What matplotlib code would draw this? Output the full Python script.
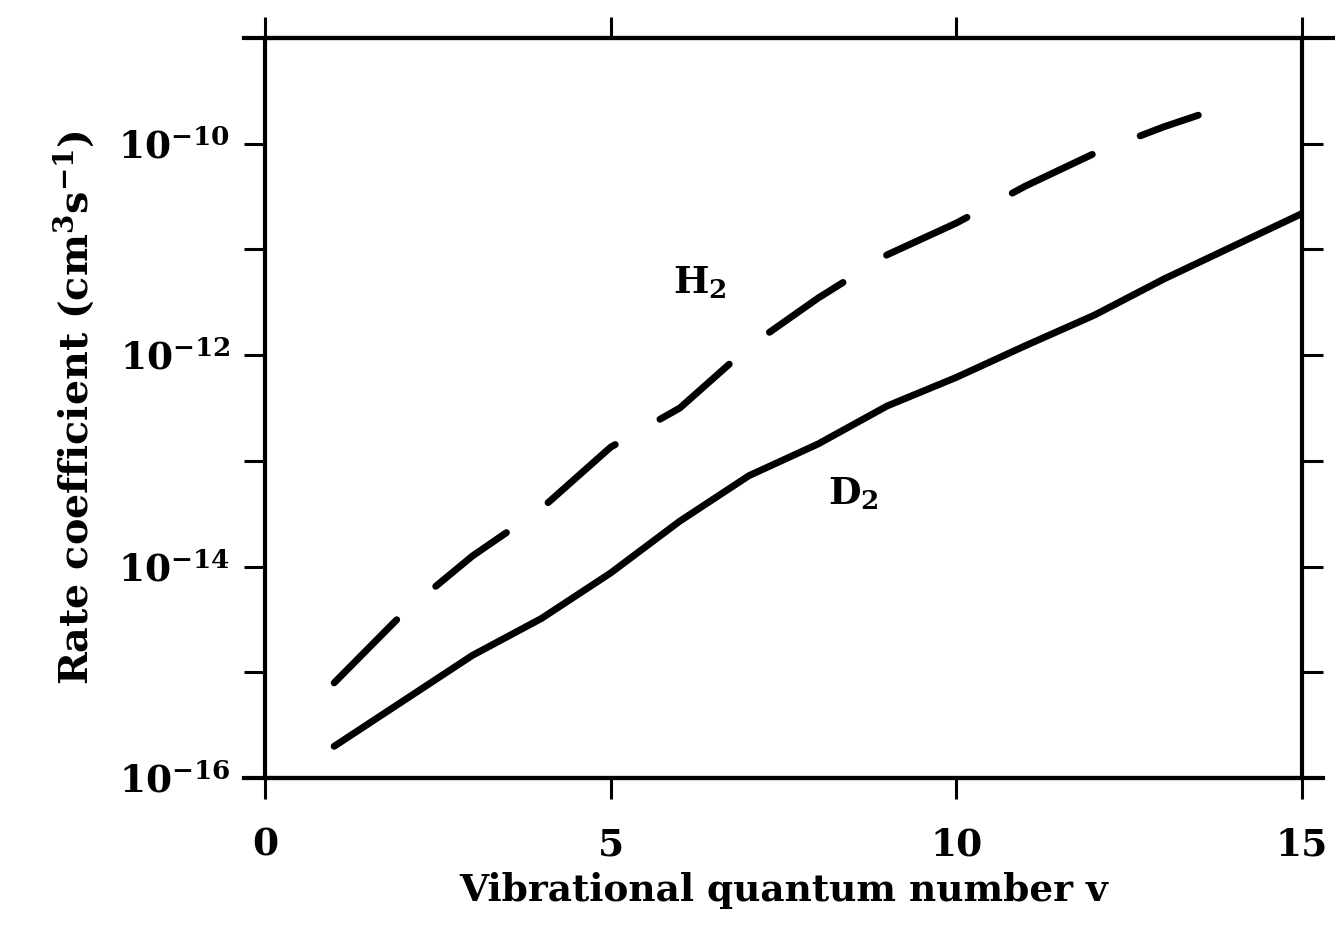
import numpy as np
import matplotlib
matplotlib.use("Agg")
import matplotlib.pyplot as plt
from matplotlib.lines import Line2D
from matplotlib.ticker import FixedLocator, FixedFormatter, NullFormatter

# data (log10 of rate coefficient)
v_h2 = [1, 2, 3, 4, 5, 6, 7, 8, 9, 10, 11, 12, 13, 13.5]
log_k_h2 = [-15.10, -14.44, -13.90, -13.45, -12.87, -12.50, -11.92,
            -11.46, -11.05, -10.75, -10.40, -10.09, -9.84, -9.73]

v_d2 = [1, 2, 3, 4, 5, 6, 7, 8, 9, 10, 11, 12, 13, 14, 15]
log_k_d2 = [-15.70, -15.27, -14.84, -14.49, -14.06, -13.57, -13.14, -12.84,
            -12.48, -12.21, -11.91, -11.62, -11.28, -10.97, -10.66]

x_ticks = [0, 5, 10, 15]
y_major = [1e-16, 1e-14, 1e-12, 1e-10]
y_minor = [1e-15, 1e-13, 1e-11]
y_labels = [r'10$^{-16}$', r'10$^{-14}$', r'10$^{-12}$', r'10$^{-10}$']

plt.rcParams['font.family'] = ['DejaVu Serif']
plt.rcParams['font.weight'] = 'bold'
plt.rcParams['axes.labelweight'] = 'bold'
plt.rcParams['mathtext.fontset'] = 'dejavuserif'
plt.rcParams['mathtext.default'] = 'bf'

fig = plt.figure(figsize=(13.35, 9.26), dpi=100)
ax = fig.add_axes([0.1985, 0.1598, 0.7768, 0.7991])

k_h2 = 10.0 ** np.array(log_k_h2)
k_d2 = 10.0 ** np.array(log_k_d2)

ax.plot(v_d2, k_d2, color='black', lw=5, solid_capstyle='round',
        solid_joinstyle='round')
ax.plot(v_h2, k_h2, color='black', lw=5, dashes=(12.8, 7.4),
        dash_capstyle='round', dash_joinstyle='round')

ax.set_yscale('log')
ax.set_xlim(0, 15)
ax.set_ylim(1e-16, 1e-9)

ax.xaxis.set_major_locator(FixedLocator(x_ticks))
ax.set_xticklabels([str(t) for t in x_ticks])
ax.yaxis.set_major_locator(FixedLocator(y_major))
ax.yaxis.set_major_formatter(FixedFormatter(y_labels))
ax.yaxis.set_minor_locator(FixedLocator(y_minor))
ax.yaxis.set_minor_formatter(NullFormatter())

for s in ax.spines.values():
    s.set_linewidth(3)

ax.tick_params(axis='both', which='both', direction='out', length=15,
               width=2.2, labelsize=27)
ax.tick_params(axis='x', top=True, pad=20)
ax.tick_params(axis='y', which='both', right=True, pad=10)

# the top and bottom frame lines run a bit past the box in the original
ax.add_line(Line2D([-0.02, 1.03], [1, 1], transform=ax.transAxes,
                   color='black', lw=3, clip_on=False))
ax.add_line(Line2D([-0.02, 1.02], [0, 0], transform=ax.transAxes,
                   color='black', lw=3, clip_on=False))

ax.text(5.9, 10 ** -11.415, r'H$_2$', fontsize=27, ha='left', va='baseline')
ax.text(8.15, 10 ** -13.41, r'D$_2$', fontsize=27, ha='left', va='baseline')

ax.set_xlabel('Vibrational quantum number v', fontsize=27, labelpad=6)
ax.set_ylabel(r'Rate coefficient (cm$^3$s$^{-1}$)', fontsize=28.5, labelpad=16)

fig.savefig('out.png', dpi=100)
